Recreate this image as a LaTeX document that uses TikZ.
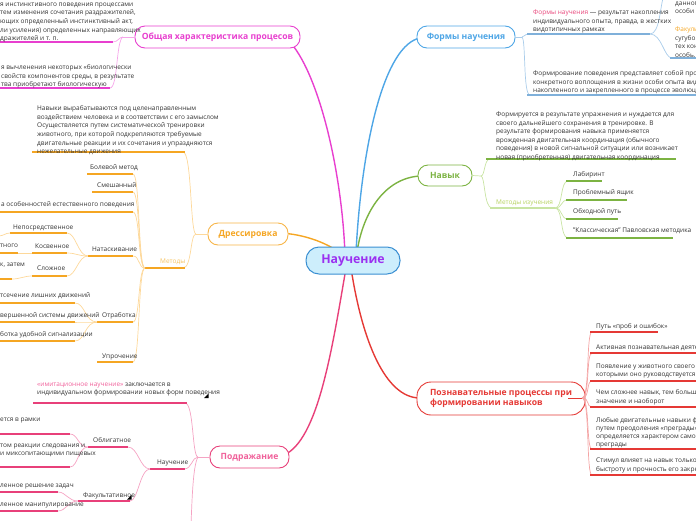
\documentclass[tikz,border=0pt]{standalone}
\usepackage{fontspec}
\setmainfont{Open Sans}
\definecolor{ctext}{HTML}{333333}
\definecolor{cfill}{HTML}{CDEEFC}
\definecolor{cbord}{HTML}{3A8FD2}
\definecolor{cpurp}{HTML}{9B30F0}
\definecolor{mag}{HTML}{E83FCF}
\definecolor{magl}{HTML}{F6A6EA}
\definecolor{blu}{HTML}{4EA6E6}
\definecolor{blul}{HTML}{A9CCEA}
\definecolor{bluu}{HTML}{7FB0DA}
\definecolor{grn}{HTML}{7CB342}
\definecolor{grnl}{HTML}{C9E4A3}
\definecolor{grnt}{HTML}{B5D15E}
\definecolor{org}{HTML}{F5A623}
\definecolor{orgb}{HTML}{F7B548}
\definecolor{orgl}{HTML}{FDD89A}
\definecolor{orgt}{HTML}{F5C260}
\definecolor{pnk}{HTML}{E8407A}
\definecolor{pnkt}{HTML}{F0609A}
\definecolor{pnkl}{HTML}{F5A3C3}
\definecolor{rd}{HTML}{E53935}
\definecolor{rdl}{HTML}{F4A4A4}
\definecolor{fpink}{HTML}{E8457A}
\definecolor{forg}{HTML}{F5A623}
\begin{document}
\begin{tikzpicture}[x=1pt,y=-1pt,
  tx/.style={anchor=north west, inner sep=0pt, font=\fontsize{6.5}{8.6}\selectfont, text=ctext, align=left},
  branch/.style={draw, rounded corners=10pt, line width=0.9pt, fill=white, font=\fontsize{8.6}{10}\selectfont\bfseries, inner sep=0pt, minimum height=22pt},
  ul/.style={line width=1.3pt},
  cn/.style={line width=0.7pt},
  mainc/.style={line width=1.4pt}]
\useasboundingbox (0,0) rectangle (696,520);
\clip (0,0) rectangle (696,520);

% ---------- main connectors ----------
\draw[mainc,mag] (288,40) .. controls (318,70) and (342,170) .. (345,255);
\draw[mainc,blu] (356,252) .. controls (362,140) and (385,45) .. (420,38);
\draw[mainc,grn] (357,252) .. controls (363,212) and (385,178) .. (420,176);
\draw[mainc,org] (280,233) .. controls (300,234) and (320,240) .. (336,250);
\draw[mainc,pnk] (346,268) .. controls (332,350) and (318,440) .. (284,455);
\draw[mainc,rd] (351,268) .. controls (362,340) and (385,398) .. (420,398);

% ---------- center ----------
\node[draw=cbord, fill=cfill, rounded corners=13pt, line width=1pt, minimum width=94pt, minimum height=27pt, inner sep=0pt, font=\fontsize{12.3}{14}\selectfont\bfseries, text=cpurp] (c) at (353,260.5) {Научение};

% ---------- Общая характеристика ----------
\node[branch, draw=mag, text=mag, minimum width=165pt] (gen) at (217.5,37) {Общая характеристика процесов};
\coordinate (genL) at (123,37);
\draw[cn,magl] (gen.west) -- (genL);
\draw[cn,magl] (genL) .. controls (119,37) and (118,42) .. (113,42);
\draw[cn,magl] (genL) .. controls (116,40) and (118,88) .. (110,88);
\draw[ul,mag] (0,42) -- (113,42);
\draw[ul,mag] (0,88) -- (110,88);
\node[tx] (g1) at (0,2.5) {я инстинктивного поведения процессами\\тем изменения сочетания раздражителей,\\ющих определенный инстинктивный акт,\\ли усиления) определенных направляющих\\дражителей и т. п.};
\node[tx] (g2) at (1,64.5) {я вычленения некоторых «биологически\\свойств компонентов среды, в результате\\тва приобретают биологическую};

% ---------- Формы научения ----------
\node[branch, draw=blu, text=blu, minimum width=98pt] (forms) at (466,37) {Формы научения};
\coordinate (fR) at (522,37);
\coordinate (fM) at (650,34);
\draw[cn,blul] (forms.east) -- (fR);
\draw[cn,blul] (fR) .. controls (525,37) and (524,34) .. (529,34);
\draw[cn,blul] (fR) .. controls (526,40) and (523,95) .. (530,95);
\draw[ul,bluu] (527,34) -- (fM);
\draw[ul,bluu] (527,95) -- (696,95);
\draw[cn,blul] (fM) .. controls (660,34) and (660,5) .. (664,-5);
\draw[cn,blul] (fM) .. controls (662,34) and (664,58) .. (672,58);
\draw[ul,bluu] (670,58) -- (696,58);
\node[tx] (f1) at (533,9.5) {\textcolor{fpink}{Формы научения} — результат накопления\\индивидуального опыта, правда, в жестких\\видотипичных рамках};
\node[tx] (f2) at (675,1.5) {данного\\особи};
\node[tx] (f3) at (675,26.5) {\textcolor{forg}{Факультативное}\\сугубо индивидуальны\\тех конкретных\\особь.};
\node[tx] (f4) at (533,70.5) {Формирование поведения представляет собой процесс\\конкретного воплощения в жизни особи опыта вида,\\накопленного и закрепленного в процессе эволюции};

% ---------- Навык ----------
\node[branch, draw=grn, text=grn, minimum width=54pt, minimum height=21pt] (nav) at (445,175.5) {Навык};
\coordinate (nR) at (481,176);
\draw[cn,grnl] (nav.east) -- (nR);
\draw[cn,grnl] (nR) .. controls (485,176) and (484,159) .. (490,159);
\draw[cn,grnl] (nR) .. controls (485,176) and (484,208) .. (492,208);
\draw[ul,grn] (486,159) -- (676,159);
\node[tx] (n1) at (496,111.5) {Формируется в результате упражнения и нуждается для\\своего дальнейшего сохранения в тренировке. В\\результате формирования навыка применяется\\врожденная двигательная координация (обычного\\поведения) в новой сигнальной ситуации или возникает\\новая (приобретенная) двигательная координация};
\node[tx, text=grnt] (nm) at (496,199.5) {Методы изучения};
\coordinate (nmR) at (555,208);
\draw[ul,grnl] (490,208) -- (nmR);
\foreach \yy/\xe in {181/602,200/627,219/618,238/673}{
  \draw[cn,grnl] (nmR) .. controls (563,208) and (560,\yy) .. (568,\yy);
  \draw[ul,grn] (566,\yy) -- (\xe,\yy);
}
\node[tx] (nm1) at (573,171.5) {Лабиринт};
\node[tx] (nm2) at (573,189.5) {Проблемный ящик};
\node[tx] (nm3) at (573,208.5) {Обходной путь};
\node[tx] (nm4) at (573,227.5) {"Классическая" Павловская методика};

% ---------- Дрессировка ----------
\node[branch, draw=orgb, text=org, minimum width=80pt] (dr) at (248,234) {Дрессировка};
\coordinate (dL) at (196,234);
\draw[cn,orgl] (dr.west) -- (dL);
\draw[cn,orgl] (dL) .. controls (190,234) and (192,152) .. (183,152);
\draw[cn,orgl] (dL) .. controls (190,234) and (192,268) .. (183,268);
\draw[ul,org] (32,152) -- (185,152);
\node[tx] (d1) at (37,105.5) {Навыки вырабатываются под целенаправленным\\воздействием человека и в соответствии с его замыслом\\Осуществляется путем систематической тренировки\\животного, при которой подкрепляются требуемые\\двигательные реакции и их сочетания и упраздняются\\нежелательные движения};
\node[tx, text=orgt] (dm) at (160,258.5) {Методы};
\coordinate (dmL) at (145,268);
\draw[ul,org] (dmL) -- (185,268);
\foreach \yy/\xs in {174/87,192/92,212/0,256/88,322/97,362/97}{
  \draw[cn,orgl] (dmL) .. controls (138,268) and (140,\yy) .. (133,\yy);
  \draw[ul,org] (\xs,\yy) -- (133,\yy);
}
\node[tx] (dm1) at (90,164.5) {Болевой метод};
\node[tx] (dm2) at (97,182.5) {Смешанный};
\node[tx] (dm3) at (1,201.5) {а особенностей естественного поведения};
\node[tx] (dm4) at (92,246.5) {Натаскивание};
\node[tx] (dm5) at (102,312.5) {Отработка};
\node[tx] (dm6) at (102,353.5) {Упрочение};
% Натаскивание children
\coordinate (natL) at (88,256);
\foreach \yy in {233,253,276}{
  \draw[cn,orgl] (natL) .. controls (78,256) and (76,\yy) .. (67,\yy);
}
\draw[ul,org] (10,233) -- (67,233);
\draw[ul,org] (32,253) -- (67,253);
\draw[ul,org] (32,276) -- (67,276);
\node[tx] (na1) at (13,224.5) {Непосредственное};
\node[tx] (na2) at (35,243.5) {Косвенное};
\node[tx] (na3) at (37,265.5) {Сложное};
\draw[cn,orgl] (10,233) .. controls (5,233) and (4,236) .. (-2,236);
\draw[cn,orgl] (32,253) -- (18,253);
\draw[ul,org] (0,253) -- (18,253);
\node[tx] (na2a) at (0,243.5) {тного};
\draw[cn,orgl] (32,276) .. controls (24,276) and (20,279) .. (12,279);
\draw[ul,org] (0,279) -- (12,279);
\node[tx] (na3a) at (0,262.5) {к, затем};
% Отработка children
\coordinate (otL) at (97,322);
\foreach \yy in {303,322,341}{
  \draw[cn,orgl] (otL) .. controls (85,322) and (85,\yy) .. (75,\yy);
  \draw[ul,org] (0,\yy) -- (75,\yy);
}
\node[tx] (ot1) at (0,292.5) {тсечение лишних движений};
\node[tx] (ot2) at (0,312) {вершенной системы движений};
\node[tx] (ot3) at (0,331.5) {ботка удобной сигнализации};

% ---------- Подражание ----------
\node[branch, draw=pnk, text=pnkt, minimum width=79pt] (pod) at (249.5,457) {Подражание};
\coordinate (pL) at (198,457);
\draw[cn,pnkl] (pod.west) -- (pL);
\draw[cn,pnkl] (pL) .. controls (192,457) and (194,403) .. (185,403);
\draw[cn,pnkl] (pL) .. controls (192,457) and (192,469) .. (184,469);
\draw[cn,pnkl] (pL) .. controls (193,465) and (192,500) .. (191,525);
\draw[ul,pnk] (33,403) -- (187,403);
\node[tx] (p1) at (37,382.5) {\textcolor{pnkt}{«имитационное научение»} заключается в\\индивидуальном формировании новых форм поведения};
\fill[black] (204,398) -- (208.5,398) -- (208.5,393.5) -- cycle;
\node[tx] (pn) at (157,459.5) {Научение};
\coordinate (pnL) at (150,469);
\draw[ul,pnk] (pnL) -- (185,469);
\draw[cn,pnkl] (pnL) .. controls (140,469) and (138,447) .. (128,447);
\draw[cn,pnkl] (pnL) .. controls (140,469) and (138,501) .. (130,501);
\draw[ul,pnk] (88,447) -- (128,447);
\node[tx] (po) at (93,437.5) {Облигатное};
\draw[ul,pnk] (78,501) -- (130,501);
\node[tx] (pf) at (83,492.5) {Факультативное};
\fill[black] (127,499.5) -- (131.5,499.5) -- (131.5,495) -- cycle;
\coordinate (poL) at (88,447);
\draw[cn,pnkl] (poL) .. controls (78,447) and (78,434) .. (70,434);
\draw[cn,pnkl] (poL) .. controls (78,447) and (78,467) .. (70,467);
\draw[ul,pnk] (0,434) -- (70,434);
\draw[ul,pnk] (0,467) -- (70,467);
\node[tx] (po1) at (0,417.5) {ется в рамки};
\node[tx] (po2) at (0,443.5) {том реакции следования и\\и миксопитающими пищевых};
\coordinate (pfL) at (78,501);
\draw[cn,pnkl] (pfL) .. controls (68,501) and (66,492) .. (58,492);
\draw[cn,pnkl] (pfL) .. controls (68,501) and (66,511) .. (58,511);
\draw[ul,pnk] (0,492) -- (58,492);
\draw[ul,pnk] (0,511) -- (58,511);
\node[tx] (pf1) at (0,483.5) {ленное решение задач};
\node[tx] (pf2) at (0,502.5) {ленное манипулирование};

% ---------- Познавательные процессы ----------
\node[branch, draw=rd, text=rd, minimum width=168pt, minimum height=33pt, rounded corners=14pt, align=left] (poz) at (501,398.5) {Познавательные процессы при\\формировании навыков};
\coordinate (rS) at (568,398);
\coordinate (rR) at (582,398);
\draw[cn,rd] (rS) -- (rR);
\foreach \yy/\xe in {332/658,353/696,381/696,407/696,449/696,475/696}{
  \draw[cn,rdl] (rR) .. controls (590,398) and (586,\yy) .. (592,\yy);
  \draw[ul,rd] (590,\yy) -- (\xe,\yy);
}
\node[tx] (r1) at (596,323.5) {Путь «проб и ошибок»};
\node[tx] (r2) at (596,344.5) {Активная познавательная деятельность};
\node[tx] (r3) at (596,363.5) {Появление у животного своего рода\\которыми оно руководствуется при};
\node[tx] (r4) at (596,389.5) {Чем сложнее навык, тем больше его\\значение и наоборот};
\node[tx, font=\fontsize{6.5}{8}\selectfont] (r5) at (596,417.5) {Любые двигательные навыки формируются\\путем преодоления «преграды». Скорость\\определяется характером самой\\преграды};
\node[tx] (r6) at (596,457.5) {Стимул влияет на навык только для\\быстроту и прочность его закрепления};
\end{tikzpicture}
\end{document}
